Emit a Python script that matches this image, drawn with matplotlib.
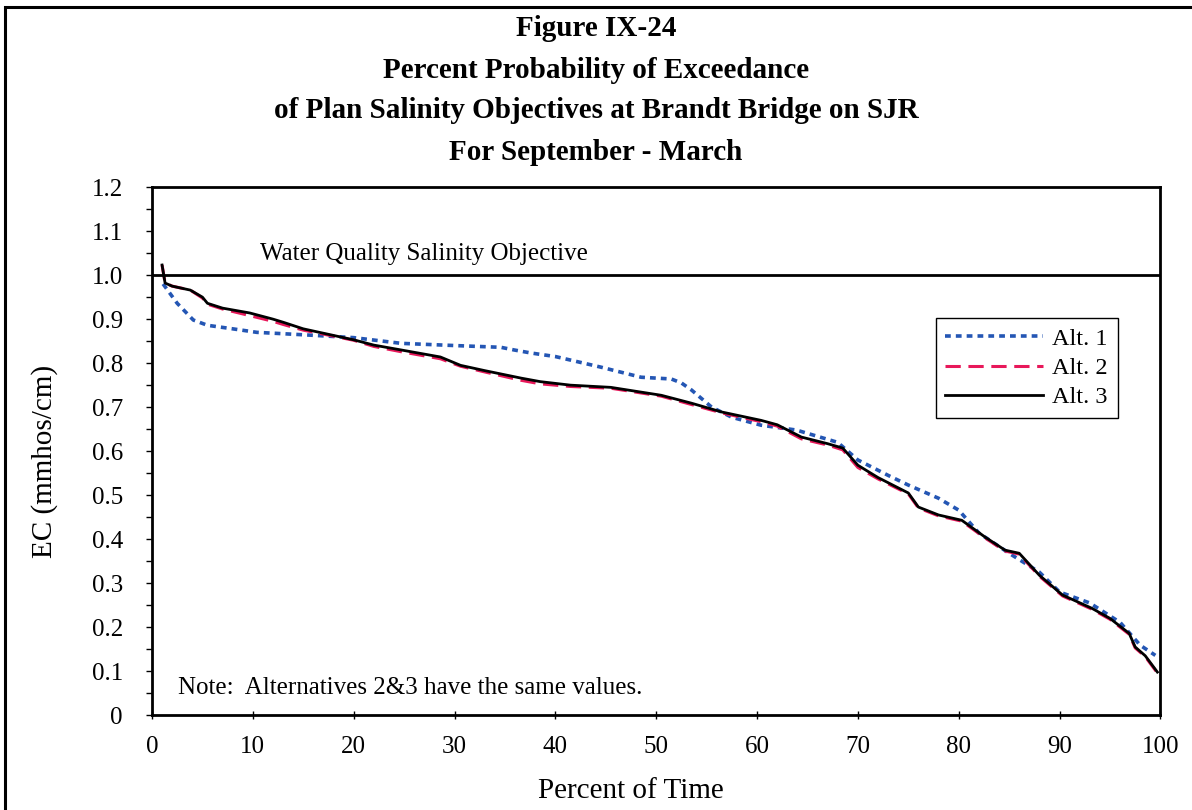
import matplotlib.pyplot as plt
from matplotlib.patches import Rectangle

plt.rcParams['font.family'] = ['Liberation Serif', 'DejaVu Serif']

# Alt. 3 (black solid)
alt3_x = [1.0, 1.3, 2.0, 3.8, 5.0, 5.5, 7, 9.7, 12, 13, 15, 17, 20, 22, 24.7, 28.6,
          30.6, 33, 36.6, 38.5, 41.5, 45.5, 48, 50.5, 53.5, 56.5, 60.4, 62, 64.4,
          67, 68.5, 70, 72, 75, 76, 78, 80.3, 82.6, 84.6, 86, 88, 90.3, 93.2, 95,
          96.9, 97.5, 98.5, 99.7]
alt3_y = [1.023, 0.982, 0.975, 0.966, 0.95, 0.936, 0.925, 0.914, 0.90, 0.893, 0.878,
          0.868, 0.853, 0.841, 0.83, 0.814, 0.795, 0.783, 0.766, 0.758, 0.75, 0.745,
          0.736, 0.727, 0.709, 0.689, 0.67, 0.66, 0.632, 0.617, 0.607, 0.568, 0.54,
          0.505, 0.473, 0.455, 0.443, 0.405, 0.375, 0.368, 0.318, 0.273, 0.243, 0.22,
          0.186, 0.155, 0.135, 0.098]

# Alt. 2 (red dashed) - practically the same values as Alt. 3
alt2_x = alt3_x
alt2_y = [1.023, 0.982, 0.975, 0.966, 0.948, 0.934, 0.923, 0.908, 0.895, 0.888, 0.875,
          0.866, 0.852, 0.838, 0.826, 0.81, 0.793, 0.78, 0.761, 0.753, 0.747, 0.743,
          0.734, 0.725, 0.706, 0.687, 0.667, 0.657, 0.628, 0.614, 0.603, 0.563, 0.537,
          0.503, 0.471, 0.453, 0.441, 0.403, 0.373, 0.366, 0.316, 0.271, 0.241, 0.218,
          0.184, 0.153, 0.133, 0.096]

# Alt. 1 (blue dotted)
alt1_x = [1.1, 2.5, 4.1, 5.5, 8, 10.4, 15.4, 20, 24.7, 30, 34.6, 35.9, 37.6, 40,
          44.5, 48.5, 51.5, 52.5, 53.5, 55.5, 57.5, 60.4, 63.9, 68, 70, 73, 75, 78,
          80, 82, 85, 88, 90, 93, 96, 98, 99.5]
alt1_y = [0.98, 0.936, 0.898, 0.886, 0.878, 0.87, 0.864, 0.858, 0.845, 0.84, 0.836,
          0.83, 0.823, 0.815, 0.791, 0.768, 0.764, 0.755, 0.739, 0.70, 0.677, 0.659,
          0.648, 0.62, 0.58, 0.545, 0.523, 0.493, 0.466, 0.414, 0.368, 0.325, 0.28,
          0.255, 0.211, 0.159, 0.136]

objective = 1.0
x_ticks = [0, 10, 20, 30, 40, 50, 60, 70, 80, 90, 100]
y_ticks = [0, 0.1, 0.2, 0.3, 0.4, 0.5, 0.6, 0.7, 0.8, 0.9, 1.0, 1.1, 1.2]
y_ticklabels = ['0', '0.1', '0.2', '0.3', '0.4', '0.5', '0.6', '0.7', '0.8', '0.9',
                '1.0', '1.1', '1.2']

fig = plt.figure(figsize=(11.92, 8.10), dpi=100)
ax = fig.add_axes([0.1275, 0.117, 0.846, 0.652])

# outer frame around the whole figure
fig.patches.append(Rectangle((0.004, -0.05), 1.1, 1.041, transform=fig.transFigure,
                             fill=False, edgecolor='black', linewidth=2.2))

ax.plot(alt1_x, alt1_y, color='#2456b4', linestyle=(0, (1.6, 1.4)), linewidth=2.6,
        label='Alt. 1')
ax.plot(alt2_x, alt2_y, color='#e8185a', linestyle=(0, (5, 2.5)), linewidth=2.2,
        label='Alt. 2')
ax.plot(alt3_x, alt3_y, color='black', linewidth=2.0, label='Alt. 3')

ax.axhline(objective, color='black', linewidth=2.0)
ax.text(10.7, 1.022, 'Water Quality Salinity Objective', fontsize=18, va='bottom')
ax.text(2.6, 0.063, 'Note:  Alternatives 2&3 have the same values.', fontsize=18,
        va='center')

ax.set_xlim(0, 100)
ax.set_ylim(0, 1.2)
ax.set_xticks(x_ticks)
ax.set_xticklabels([str(v) for v in x_ticks], fontsize=18)
ax.set_yticks(y_ticks)
ax.set_yticklabels(y_ticklabels, fontsize=18)
ax.set_yticks([v + 0.05 for v in y_ticks[:-1]], minor=True)
ax.tick_params(axis='x', direction='inout', length=6, width=1, pad=12)
ax.tick_params(axis='y', which='both', direction='out', length=4, width=1, pad=17)
for s in ax.spines.values():
    s.set_linewidth(2.0)

ax.set_xlabel('Percent of Time', fontsize=21)
ax.xaxis.set_label_coords(0.475, -0.118)
ax.set_ylabel('EC (mmhos/cm)', fontsize=21)
ax.yaxis.set_label_coords(-0.093, 0.48)

leg = ax.legend(loc='upper left', bbox_to_anchor=(0.765, 0.775), fontsize=17.5,
                handlelength=4.0, handletextpad=0.4, labelspacing=0.3,
                fancybox=False, framealpha=1, edgecolor='black', borderpad=0.4)
leg.get_frame().set_linewidth(1.0)

title_lines = ['Figure IX-24', 'Percent Probability of Exceedance',
               'of Plan Salinity Objectives at Brandt Bridge on SJR',
               'For September - March']
for i, t in enumerate(title_lines):
    fig.text(0.5, 1 - (29 + 41 * i) / 810, t, ha='center', va='center',
             fontsize=21, fontweight='bold')

fig.savefig('out.png', dpi=100)
